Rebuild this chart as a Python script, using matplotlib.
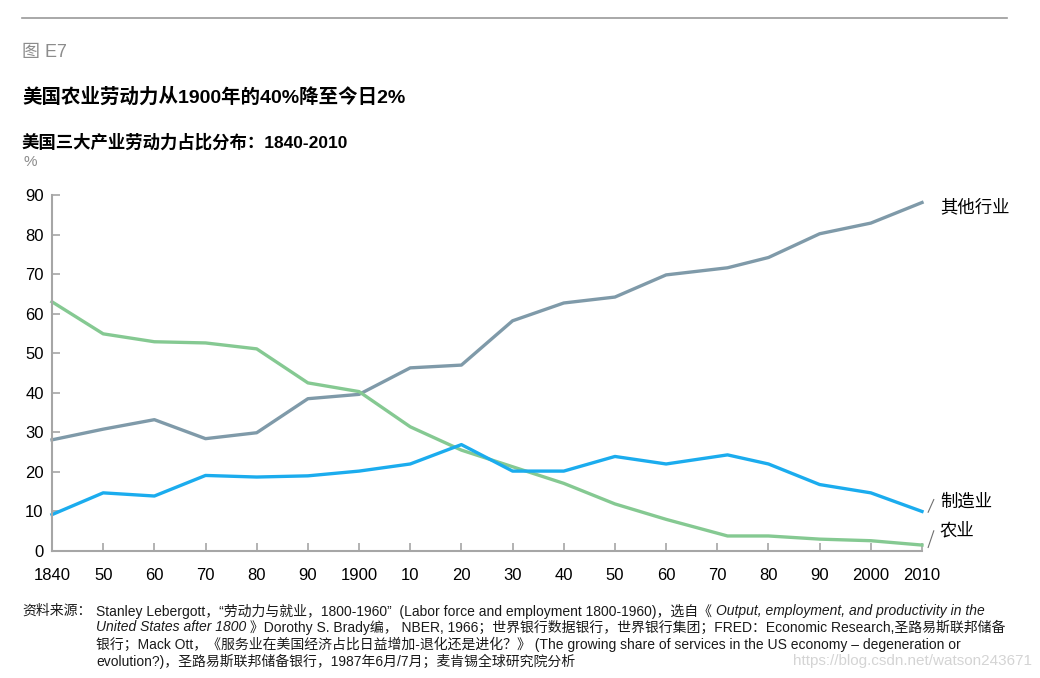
import matplotlib
matplotlib.use("Agg")
import matplotlib.pyplot as plt
from matplotlib.lines import Line2D

plt.rcParams['font.family'] = ['Liberation Sans', 'Noto Sans CJK SC']

# data (share of labour force, %)
years = [1840, 1850, 1860, 1870, 1880, 1890, 1900, 1910, 1920, 1930,
         1940, 1950, 1960, 1972, 1980, 1990, 2000, 2010]
other = [28.1, 30.8, 33.2, 28.4, 29.9, 38.5, 39.6, 46.3, 47.0, 58.2,
         62.7, 64.2, 69.8, 71.6, 74.2, 80.2, 82.9, 88.1]
agri = [63.0, 54.9, 52.9, 52.6, 51.1, 42.5, 40.3, 31.4, 25.5, 21.3,
        17.1, 11.9, 8.0, 3.8, 3.8, 3.0, 2.6, 1.5]
manu = [9.2, 14.7, 13.9, 19.1, 18.7, 19.0, 20.2, 22.0, 26.9, 20.2,
        20.2, 23.9, 22.0, 24.3, 22.0, 16.8, 14.7, 10.0]

xticks = [1840, 1850, 1860, 1870, 1880, 1890, 1900, 1910, 1920, 1930,
          1940, 1950, 1960, 1970, 1980, 1990, 2000, 2010]
xlabels = ['1840', '50', '60', '70', '80', '90', '1900', '10', '20', '30',
           '40', '50', '60', '70', '80', '90', '2000', '2010']
yticks = [0, 10, 20, 30, 40, 50, 60, 70, 80, 90]

c_other = '#7f9aa9'
c_agri = '#85c992'
c_manu = '#1bacee'
grey = '#a6a6a6'

W, H = 1040, 678
fig = plt.figure(figsize=(W / 100, H / 100), dpi=100)
ax = fig.add_axes([52 / W, 1 - 551 / H, 870 / W, 356 / H])

ax.plot(years, other, color=c_other, lw=2.4, clip_on=False, solid_joinstyle='round')
ax.plot(years, agri, color=c_agri, lw=2.4, clip_on=False, solid_joinstyle='round')
ax.plot(years, manu, color=c_manu, lw=2.4, clip_on=False, solid_joinstyle='round')

ax.set_xlim(1840, 2010)
ax.set_ylim(0, 90)
ax.set_xticks(xticks)
ax.set_xticklabels(xlabels)
ax.set_yticks(yticks)
for s in ['top', 'right']:
    ax.spines[s].set_visible(False)
for s in ['left', 'bottom']:
    ax.spines[s].set_color(grey)
    ax.spines[s].set_linewidth(1.5)
ax.tick_params(direction='in', length=6, width=1.2, color=grey,
               labelsize=12, labelcolor='black')
ax.tick_params(axis='x', pad=12)
ax.tick_params(axis='y', pad=6)

# end labels
ax.text(2013.5, other[-1] - 1, '其他行业', fontsize=12.5, va='center', ha='left')
ax.text(2013.5, manu[-1] + 2.4, '制造业', fontsize=12.5, va='center', ha='left')
ax.text(2013.5, agri[-1] + 3.8, '农业', fontsize=12.5, va='center', ha='left')
ax.plot([2011.2, 2012.3], [manu[-1] - 0.2, manu[-1] + 3], color='#707070', lw=0.8, clip_on=False)
ax.plot([2011.2, 2012.3], [agri[-1] - 0.6, agri[-1] + 3.6], color='#707070', lw=0.8, clip_on=False)

# header
fig.add_artist(Line2D([22 / W, 1007 / W], [1 - 18 / H, 1 - 18 / H], color='#9a9a9a', lw=1.2))
fig.text(22 / W, 1 - 52 / H, '图 E7', fontsize=13, color='#8c8c8c', va='center')
fig.text(22 / W, 1 - 97 / H, '美国农业劳动力从1900年的40%降至今日2%', fontsize=14,
         fontweight='bold', va='center')
fig.text(22 / W, 1 - 142 / H, '美国三大产业劳动力占比分布：1840-2010', fontsize=12.5,
         fontweight='bold', va='center')
fig.text(24 / W, 1 - 162 / H, '%', fontsize=11, color='#8c8c8c', va='center')

# footnote with mixed upright / italic runs
renderer = fig.canvas.get_renderer()
fs = 10


def runs(x, y, parts):
    for txt, style in parts:
        t = fig.text(x / W, 1 - y / H, txt, fontsize=fs, style=style, va='center',
                     color='#1a1a1a')
        x += t.get_window_extent(renderer).width


fig.text(22 / W, 1 - 611 / H, '资料来源：', fontsize=fs, va='center', color='#1a1a1a')
runs(96, 611, [('Stanley Lebergott，“劳动力与就业，1800-1960”  (Labor force and employment 1800-1960)，选自《 ', 'normal'),
               ('Output, employment, and productivity in the', 'italic')])
runs(96, 627, [('United States after 1800', 'italic'),
               (' 》Dorothy S. Brady编， NBER, 1966；世界银行数据银行，世界银行集团；FRED：Economic Research,圣路易斯联邦储备', 'normal')])
runs(96, 644, [('银行；Mack Ott，《服务业在美国经济占比日益增加-退化还是进化？》 (The growing share of services in the US economy – degeneration or', 'normal')])
runs(96, 661, [('evolution?)，圣路易斯联邦储备银行，1987年6月/7月；麦肯锡全球研究院分析', 'normal')])
fig.text(1032 / W, 1 - 661 / H, 'https://blog.csdn.net/watson243671', fontsize=11,
         color='#d4d4d4', ha='right', va='center')

fig.savefig('out.png', dpi=100)
